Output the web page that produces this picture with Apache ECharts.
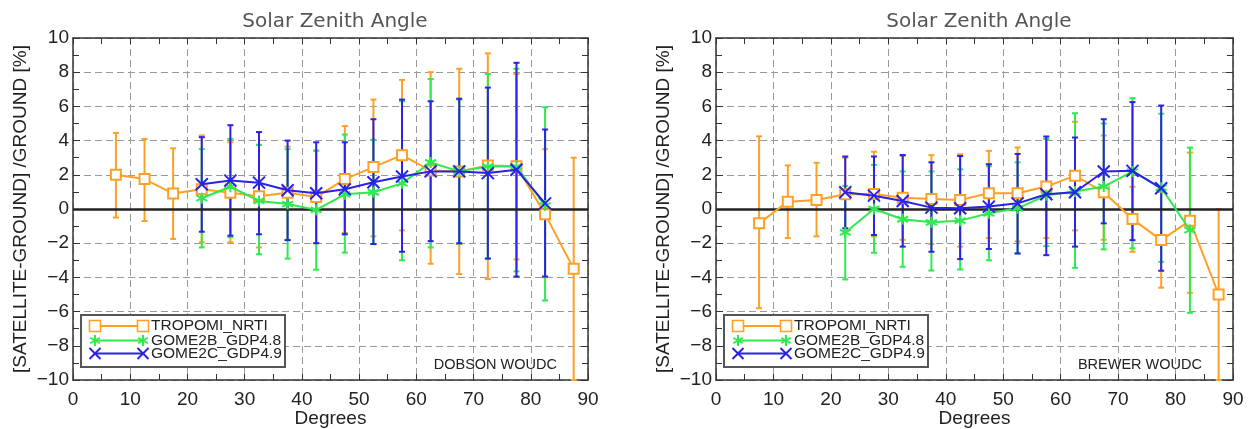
<!DOCTYPE html>
<html>
<head>
<meta charset="utf-8">
<script src="https://cdn.jsdelivr.net/npm/echarts@6/dist/echarts.min.js"></script>
<style>
html,body{margin:0;padding:0;background:#fff;}
#c{width:1250px;height:429px;}
</style>
</head>
<body>
<div id="c"></div>
<script>
// ---------- DATA ----------
const xAll = [7.5,12.5,17.5,22.5,27.5,32.5,37.5,42.5,47.5,52.5,57.5,62.5,67.5,72.5,77.5,82.5,87.5];
const xGomeB = [22.5,27.5,32.5,37.5,42.5,47.5,52.5,57.5,62.5,67.5,72.5,77.5,82.5];
const xGomeCLeft = [22.5,27.5,32.5,37.5,42.5,47.5,52.5,57.5,62.5,67.5,72.5,77.5,82.5];
const xGomeCRight = [22.5,27.5,32.5,37.5,42.5,47.5,52.5,57.5,62.5,67.5,72.5,77.5];

const seriesNames = ['TROPOMI_NRTI','GOME2B_GDP4.8','GOME2C_GDP4.9'];
const xTicks = [0,10,20,30,40,50,60,70,80,90];
const yTicks = [-10,-8,-6,-4,-2,0,2,4,6,8,10];
const panelTitles = ['Solar Zenith Angle','Solar Zenith Angle'];
const panelLabels = ['DOBSON WOUDC','BREWER WOUDC'];

// Left panel (Dobson)
const dobTropVal = [2.0,1.75,0.9,1.15,0.95,0.75,0.95,0.7,1.75,2.45,3.15,2.25,2.2,2.55,2.5,-0.3,-3.5];
const dobTropHi  = [4.45,4.1,3.55,4.3,3.9,3.75,3.65,3.4,4.85,6.4,7.55,8.0,8.2,9.1,7.9,3.5,3.0];
const dobTropLo  = [-0.5,-0.7,-1.75,-1.95,-1.95,-2.25,-1.8,-2.0,-1.4,-1.6,-1.25,-3.2,-3.8,-4.1,-2.95,-4.0,-10];

const dobGBVal = [0.63,1.3,0.47,0.29,-0.05,0.86,0.98,1.5,2.72,2.2,2.48,2.48,0.2];
const dobGBHi  = [3.5,4.1,3.75,3.5,3.42,4.35,4.05,6.3,7.6,6.4,7.9,8.2,5.95];
const dobGBLo  = [-2.25,-1.65,-2.65,-2.9,-3.55,-2.55,-2.05,-3.0,-2.25,-2.05,-2.9,-3.65,-5.35];

const dobGCVal = [1.45,1.66,1.54,1.1,0.92,1.15,1.56,1.9,2.2,2.2,2.1,2.3,0.33];
const dobGCHi  = [4.2,4.9,4.5,4.0,3.9,3.9,5.25,6.4,6.3,6.45,7.1,8.55,4.65];
const dobGCLo  = [-1.33,-1.56,-1.48,-1.82,-2.0,-1.48,-2.05,-2.5,-1.88,-2.0,-2.9,-3.95,-3.95];

// Right panel (Brewer)
const brwTropVal = [-0.84,0.43,0.53,0.86,0.88,0.66,0.59,0.53,0.92,0.92,1.31,1.95,0.98,-0.59,-1.82,-0.68,-5.0];
const brwTropHi  = [4.25,2.55,2.7,3.0,3.35,3.1,3.15,3.2,3.4,3.6,4.1,5.1,4.3,1.3,1.0,3.3,0.0];
const brwTropLo  = [-5.8,-1.7,-1.6,-1.3,-1.6,-1.8,-2.05,-2.2,-1.7,-1.9,-1.7,-1.25,-1.8,-2.5,-4.6,-4.9,-10];

const brwGBVal = [-1.37,0.0,-0.6,-0.78,-0.68,-0.25,0.04,0.8,1.02,1.31,2.19,1.25,-1.23];
const brwGBHi  = [1.35,2.58,2.2,2.2,2.32,2.5,2.73,4.1,5.6,5.0,6.48,5.57,3.59];
const brwGBLo  = [-4.12,-2.56,-3.38,-3.6,-3.54,-3.0,-2.6,-2.17,-3.44,-2.36,-2.3,-3.09,-6.07];

const brwGCVal = [0.98,0.78,0.47,0.08,0.04,0.14,0.33,0.86,0.98,2.19,2.23,1.21];
const brwGCHi  = [3.07,3.07,3.16,2.73,3.1,2.62,3.22,4.24,4.18,5.25,6.25,6.05];
const brwGCLo  = [-1.13,-1.52,-2.2,-2.5,-2.93,-2.34,-2.6,-2.7,-2.2,-0.84,-1.82,-3.61];

// ---------- STYLE ----------
const COL = ['#FFA024','#2EEA4E','#2A22E6'];
const SYM = [
  'emptyRect',
  'path://M5,0L5,10M0.7,2.5L9.3,7.5M0.7,7.5L9.3,2.5',
  'path://M0,0L10,10M10,0L0,10'
];
const SYMSIZE = [10, 11, 12];
const FONT = 'Liberation Sans, Arial, sans-serif';

const chart = echarts.init(document.getElementById('c'));

const grids = [
  {left:73, top:38, width:515, height:342, outerBoundsMode:'none', containLabel:false},
  {left:716, top:38, width:517, height:342, outerBoundsMode:'none', containLabel:false}
];

function xAxisDef(gi, pos, showLabel, name) {
  return {
    type:'value', gridIndex:gi, position:pos, min:0, max:90, interval:10,
    name: name || '', nameLocation:'middle', nameGap:29, nameMoveOverlap:false,
    nameTextStyle:{fontFamily:FONT, fontSize:19, color:'#222'},
    axisLine:{show:true, onZero:false, lineStyle:{color:'#333', width:1.5}},
    axisTick:{show:true, inside:true, length:6, lineStyle:{color:'#333', width:1}},
    minorTick:{show:true, splitNumber:2, length:6, lineStyle:{color:'#333', width:1}},
    axisLabel:{show:showLabel, fontFamily:FONT, fontSize:19, color:'#222', margin:10},
    splitLine:{show:showLabel, lineStyle:{color:'#9a9a9a', type:[7,4], width:1}},
    minorSplitLine:{show:false}
  };
}
function yAxisDef(gi, pos, showLabel, name) {
  return {
    type:'value', gridIndex:gi, position:pos, min:-10, max:10, interval:2,
    name: name || '', nameLocation:'middle', nameGap:43, nameRotate:90, nameMoveOverlap:false,
    nameTextStyle:{fontFamily:FONT, fontSize:19, color:'#222'},
    axisLine:{show:true, onZero:false, lineStyle:{color:'#333', width:1.5}},
    axisTick:{show:true, inside:true, length:7, lineStyle:{color:'#333', width:1}},
    minorTick:{show:true, splitNumber:2, length:6, lineStyle:{color:'#333', width:1}},
    axisLabel:{show:showLabel, fontFamily:FONT, fontSize:19, color:'#222', margin:4,
      formatter:v => (v < 0 ? '\u2212' + Math.abs(v) : String(v))},
    splitLine:{show:showLabel, lineStyle:{color:'#9a9a9a', type:[7,4], width:1}},
    minorSplitLine:{show:false}
  };
}

const xAxes = [
  xAxisDef(0,'bottom',true,'Degrees'), xAxisDef(0,'top',false),
  xAxisDef(1,'bottom',true,'Degrees'), xAxisDef(1,'top',false)
];
const yAxes = [
  yAxisDef(0,'left',true,'[SATELLITE-GROUND] /GROUND [%]'), yAxisDef(0,'right',false),
  yAxisDef(1,'left',true,'[SATELLITE-GROUND] /GROUND [%]'), yAxisDef(1,'right',false)
];

function errData(xs, lo, hi) { return xs.map((x,i) => [x, lo[i], hi[i]]); }
function lineData(xs, v) { return xs.map((x,i) => [x, v[i]]); }

function errSeries(gi, xs, lo, hi, color, z) {
  return {
    type:'custom', xAxisIndex:gi*2, yAxisIndex:gi*2, z:z, silent:true,
    data: errData(xs, lo, hi),
    renderItem: function(params, api) {
      const x = api.value(0);
      const p1 = api.coord([x, Math.min(api.value(2),10)]);
      const p2 = api.coord([x, Math.max(api.value(1),-10)]);
      const w = 3;
      const st = {stroke:color, lineWidth:2};
      return {type:'group', children:[
        {type:'line', shape:{x1:p1[0], y1:p1[1], x2:p2[0], y2:p2[1]}, style:st},
        {type:'line', shape:{x1:p1[0]-w, y1:p1[1], x2:p1[0]+w, y2:p1[1]}, style:st},
        {type:'line', shape:{x1:p2[0]-w, y1:p2[1], x2:p2[0]+w, y2:p2[1]}, style:st}
      ]};
    }
  };
}
function lineSeries(gi, xs, v, k, z) {
  return {
    type:'line', xAxisIndex:gi*2, yAxisIndex:gi*2, z:z, silent:true,
    data: lineData(xs, v), symbol:SYM[k], symbolSize:SYMSIZE[k], showSymbol:true,
    lineStyle:{color:COL[k], width:2},
    itemStyle:{color:COL[k], borderColor:COL[k], borderWidth:k===0?1.6:2},
    animation:false
  };
}

const series = [];
const panels = [
  {tv:dobTropVal, th:dobTropHi, tl:dobTropLo, bv:dobGBVal, bh:dobGBHi, bl:dobGBLo, cx:xGomeCLeft, cv:dobGCVal, ch:dobGCHi, cl:dobGCLo},
  {tv:brwTropVal, th:brwTropHi, tl:brwTropLo, bv:brwGBVal, bh:brwGBHi, bl:brwGBLo, cx:xGomeCRight, cv:brwGCVal, ch:brwGCHi, cl:brwGCLo}
];
panels.forEach((p, gi) => {
  series.push({
    type:'line', xAxisIndex:gi*2, yAxisIndex:gi*2, data:[], silent:true, z:1,
    markLine:{silent:true, symbol:'none', label:{show:false},
      lineStyle:{color:'#222', width:2.5, type:'solid'},
      data:[{yAxis:0}], animation:false}
  });
  series.push(errSeries(gi, xAll, p.tl, p.th, COL[0], 2));
  series.push(errSeries(gi, xGomeB, p.bl, p.bh, COL[1], 3));
  series.push(errSeries(gi, p.cx, p.cl, p.ch, COL[2], 4));
  series.push(lineSeries(gi, xAll, p.tv, 0, 5));
  series.push(lineSeries(gi, xGomeB, p.bv, 1, 6));
  series.push(lineSeries(gi, p.cx, p.cv, 2, 7));
});

// ---------- legend & labels (graphic) ----------
function markerGraphic(k, cx, cy, z) {
  const s = 5.5;
  if (k === 0) {
    return [{type:'rect', z:z, shape:{x:cx-s, y:cy-s, width:2*s, height:2*s}, style:{fill:'#fff', stroke:COL[0], lineWidth:1.6}}];
  }
  if (k === 1) {
    return [
      {type:'line', z:z, shape:{x1:cx, y1:cy-s, x2:cx, y2:cy+s}, style:{stroke:COL[1], lineWidth:2}},
      {type:'line', z:z, shape:{x1:cx-s*0.87, y1:cy-s*0.5, x2:cx+s*0.87, y2:cy+s*0.5}, style:{stroke:COL[1], lineWidth:2}},
      {type:'line', z:z, shape:{x1:cx-s*0.87, y1:cy+s*0.5, x2:cx+s*0.87, y2:cy-s*0.5}, style:{stroke:COL[1], lineWidth:2}}
    ];
  }
  return [
    {type:'line', z:z, shape:{x1:cx-s, y1:cy-s, x2:cx+s, y2:cy+s}, style:{stroke:COL[2], lineWidth:2}},
    {type:'line', z:z, shape:{x1:cx-s, y1:cy+s, x2:cx+s, y2:cy-s}, style:{stroke:COL[2], lineWidth:2}}
  ];
}
function legendGraphic(x0, y0) {
  let els = [];
  els.push({type:'rect', shape:{x:x0, y:y0, width:204, height:52}, style:{fill:'#fff', stroke:'#555', lineWidth:2}, z:50});
  const rows = [y0+11, y0+25.5, y0+38.5];
  rows.forEach((ry, k) => {
    const a = x0+14, b = x0+62;
    els.push({type:'line', shape:{x1:a, y1:ry, x2:b, y2:ry}, style:{stroke:COL[k], lineWidth:2}, z:51});
    els = els.concat(markerGraphic(k, a, ry, 52)).concat(markerGraphic(k, b, ry, 52));
    els.push({type:'text', x:x0+70, y:ry, z:52,
      style:{text:seriesNames[k], fontFamily:FONT, fontSize:15.5, fill:'#222', verticalAlign:'middle', align:'left'}});
  });
  return els;
}
const graphics = []
  .concat(legendGraphic(81, 315))
  .concat(legendGraphic(724, 315))
  .concat([
    {type:'text', x:557, y:365, z:60, style:{text:panelLabels[0], fontFamily:FONT, fontSize:14.5, fill:'#222', align:'right', verticalAlign:'middle'}},
    {type:'text', x:1202, y:365, z:60, style:{text:panelLabels[1], fontFamily:FONT, fontSize:14.5, fill:'#222', align:'right', verticalAlign:'middle'}}
  ]);

chart.setOption({
  animation:false,
  backgroundColor:'#fff',
  title:[
    {text:panelTitles[0], left:330, top:7, textAlign:'center', textStyle:{fontFamily:'DejaVu Sans', fontWeight:'normal', fontSize:20, color:'#555'}},
    {text:panelTitles[1], left:974, top:7, textAlign:'center', textStyle:{fontFamily:'DejaVu Sans', fontWeight:'normal', fontSize:20, color:'#555'}}
  ],
  grid: grids,
  xAxis: xAxes,
  yAxis: yAxes,
  series: series,
  graphic: graphics
});
</script>
</body>
</html>
